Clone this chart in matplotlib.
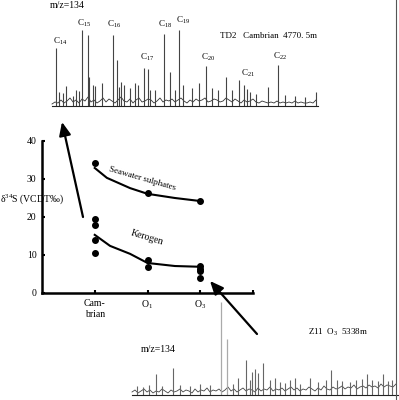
import numpy as np
import matplotlib
matplotlib.use("Agg")
import matplotlib.pyplot as plt

plt.rcParams['font.family'] = ['Liberation Serif', 'DejaVu Serif']
plt.rcParams['mathtext.fontset'] = 'custom'
plt.rcParams['mathtext.rm'] = 'Liberation Serif'
plt.rcParams['mathtext.it'] = 'Liberation Serif:italic'

# --- sulphur isotope data (delta34S, per mil) ---
ages = ["Cam-\nbrian", r"O$_1$", r"O$_3$"]
cambrian_pts = [34.2, 19.5, 17.9, 13.9, 10.5]
o1_pts = [26.3, 8.7, 6.8]
o3_pts = [24.2, 7.0, 6.3, 5.8, 3.9]

# trend lines
sea_x = [1.0, 1.23, 1.67, 2.0, 2.52, 3.0]
sea_y = [32.9, 30.3, 27.6, 26.1, 25.0, 24.2]
ker_x = [1.0, 1.29, 1.67, 2.0, 2.52, 3.0]
ker_y = [15.3, 12.4, 10.3, 7.9, 7.1, 6.9]

# --- TD2 Cambrian chromatogram (m/z=134) ---
top_peak_x = [6, 9, 13, 16, 23, 26, 29, 32, 38, 39, 43, 45, 52, 63, 67, 69, 71, 74, 80, 85, 88,
              94, 98, 100, 105, 114, 120, 125, 129, 133, 142, 149, 156, 162, 168, 176, 182,
              189, 194, 197, 200, 206, 218, 228, 235, 245, 255, 266]
top_peak_h = [58, 14, 13, 20, 10, 16, 15, 76, 71, 29, 21, 20, 23, 71, 46, 19, 24, 21, 18, 23, 21,
              38, 37, 16, 16, 72, 34, 16, 76, 21, 18, 23, 40, 18, 16, 29, 16,
              26, 21, 17, 14, 12, 19, 41, 11, 10, 9, 14]
top_noise = [2, 4, 3, 6, 3, 5, 8, 4, 6, 3, 7, 5, 9, 4, 6, 3, 5, 8, 4, 7, 5, 3, 6, 9, 5, 4, 7, 3, 6, 8,
             4, 5, 7, 6, 3, 5, 8, 4, 6, 5, 7, 4, 6, 8, 5, 3, 6, 4, 7, 5, 6, 8, 4, 5, 7, 6, 4, 5, 8, 6,
             4, 7, 5, 3, 6, 4, 5, 7, 4, 3, 5, 4, 3, 4, 3, 5, 3, 4, 3, 4, 3, 5, 3, 4, 3, 3, 4, 3, 6]
top_labels = ["14", "15", "16", "17", "18", "19", "20", "21", "22"]
top_label_pos = [(53, 41), (77, 23), (107, 24), (140, 57), (158, 24), (176, 20), (201, 57), (241, 73), (273, 56)]

# --- Z11 O3 chromatogram (m/z=134) ---
bot_peak_x = [7, 13, 19, 26, 32, 43, 50, 60, 70, 80, 103, 108, 116, 120, 122, 125, 128, 133,
              140, 145, 150, 155, 160, 165, 170, 180, 188, 196, 201, 207, 212, 220, 226, 232,
              237, 242, 248, 253, 258, 262]
bot_peak_h = [9, 8, 10, 21, 9, 27, 10, 9, 11, 10, 11, 17, 35, 15, 23, 26, 22, 32,
              15, 17, 13, 12, 15, 17, 11, 17, 13, 15, 25, 15, 14, 13, 15, 16,
              21, 15, 14, 21, 14, 15]
bot_tall_x = [91, 97]
bot_tall_h = [93, 56]
bot_noise = [3, 5, 2, 4, 6, 3, 5, 2, 4, 3, 6, 4, 2, 5, 3, 4, 6, 3, 5, 4, 2, 6, 3, 5, 4, 7, 3, 5, 4, 6,
             3, 5, 8, 4, 6, 3, 5, 7, 4, 6, 5, 3, 7, 4, 6, 5, 8, 4, 6, 5, 7, 4, 6, 8, 5, 7, 4, 6, 5, 8,
             6, 4, 7, 5, 9, 6, 5, 8, 6, 7, 9, 6, 8, 7, 10, 6, 8, 9, 7, 10, 8, 9, 7, 11, 8, 10, 9, 8, 11]

W, H = 399, 400
fig = plt.figure(figsize=(W / 100, H / 100), dpi=100)

# main isotope plot
ax = fig.add_axes([42 / W, 107 / H, 211 / W, 152 / H])
for xi, pts in zip([1, 2, 3], [cambrian_pts, o1_pts, o3_pts]):
    ax.plot([xi] * len(pts), pts, 'o', color='black', ms=4, zorder=3)
ax.plot(sea_x, sea_y, color='black', lw=1.5)
ax.plot(ker_x, ker_y, color='black', lw=1.5)
ax.text(1.9, 30.0, "Seawater sulphates", rotation=-16, ha='center', va='center', fontsize=6.5)
ax.text(2.0, 14.7, "Kerogen", rotation=-17, ha='center', va='center', fontsize=7)
ax.set_xlim(0, 4)
ax.set_ylim(0, 40)
ax.set_xticks([1, 2, 3, 4])
ax.set_xticklabels(ages + [""], fontsize=6.5, linespacing=1.3)
ax.set_yticks([0, 10, 20, 30, 40])
ax.tick_params(axis='both', direction='in', length=2.5, width=1.5, labelsize=7, pad=4)
for s in ['top', 'right']:
    ax.spines[s].set_visible(False)
for s in ['left', 'bottom']:
    ax.spines[s].set_linewidth(1.8)
ax.patch.set_alpha(0)

# top chromatogram
axt = fig.add_axes([50 / W, 292 / H, 270 / W, 88 / H])
axt.plot(np.arange(len(top_noise)) * 3 + 2, top_noise, color='#333333', lw=0.6)
axt.vlines(top_peak_x, 0, top_peak_h, color='#444444', lw=0.8)
axt.plot([2, 268], [0, 0], color='#222222', lw=0.8)
axt.set_xlim(0, 270)
axt.set_ylim(-2, 86)
axt.axis('off')

# bottom chromatogram
axb = fig.add_axes([130 / W, 0, 269 / W, 100 / H])
axb.plot(np.arange(len(bot_noise)) * 3 + 2, bot_noise, color='#444444', lw=0.6)
axb.vlines(bot_peak_x, 0, bot_peak_h, color='#666666', lw=0.8)
axb.vlines(bot_tall_x, 0, bot_tall_h, color='#aaaaaa', lw=0.9)
axb.plot([2, 269], [0, 0], color='#222222', lw=0.8)
axb.set_xlim(0, 269)
axb.set_ylim(-5, 95)
axb.axis('off')

# overlay in pixel coordinates for labels and arrows
ov = fig.add_axes([0, 0, 1, 1])
ov.set_xlim(0, W)
ov.set_ylim(H, 0)
ov.axis('off')
ov.patch.set_alpha(0)

ov.text(50, 5, "m/z=134", fontsize=7, va='center', ha='left')
ov.text(220, 36, "TD2   Cambrian  4770. 5m", fontsize=6.5, va='center', ha='left')
for lab, (lx, ly) in zip(top_labels, top_label_pos):
    ov.text(lx, ly, "C$_{%s}$" % lab, fontsize=6.5, va='center', ha='left')
ov.text(141, 350, "m/z=134", fontsize=7, va='center', ha='left')
ov.text(308, 332, r"Z11  O$_3$  5338m", fontsize=6.5, va='center', ha='left')
ov.text(0, 199, r"$\mathregular{δ^{34}}$S (VCDT‰)", fontsize=7, va='center', ha='left')

arrow_style = dict(arrowstyle='-|>,head_length=0.8,head_width=0.35', lw=1.6, color='black',
                   shrinkA=0, shrinkB=0)
ov.annotate('', xy=(62, 122), xytext=(83, 217), arrowprops=arrow_style)
ov.annotate('', xy=(210, 281), xytext=(257, 334), arrowprops=arrow_style)
ov.plot([396, 396], [0, 400], color='#555555', lw=0.8)

fig.savefig("out.png", dpi=100)
